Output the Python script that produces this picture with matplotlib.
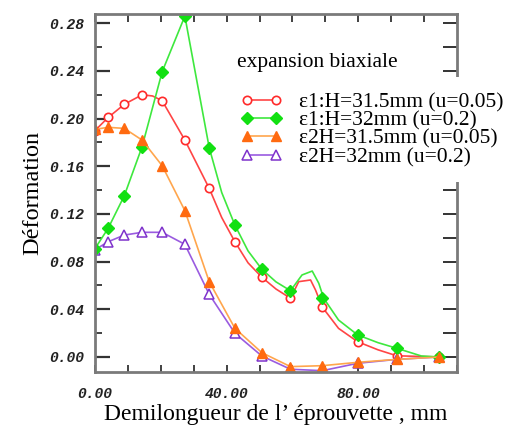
import numpy as np
import matplotlib
matplotlib.use("Agg")
import matplotlib.pyplot as plt
from matplotlib.ticker import MultipleLocator, FixedLocator
from matplotlib.lines import Line2D
from matplotlib.font_manager import FontProperties

# marker positions (mm) and values
x_nodes = [0, 4.0, 8.9, 14.3, 20.4, 27.3, 34.7, 42.5, 50.7, 59.4, 69.1, 79.8, 91.7, 104.5]
e1_315 = [0.190, 0.201, 0.212, 0.220, 0.215, 0.182, 0.1415, 0.0967, 0.0669, 0.0493, 0.0417, 0.0128, 0.001, 0.0]
e1_32 = [0.091, 0.108, 0.1353, 0.1764, 0.2393, 0.286, 0.1756, 0.1107, 0.0736, 0.0556, 0.0492, 0.0185, 0.0073, 0.0]
e2_315 = [0.191, 0.1927, 0.1918, 0.182, 0.1605, 0.1228, 0.0632, 0.0241, 0.0036, -0.0081, -0.0073, -0.0045, -0.002, 0.0]
e2_32 = [0.090, 0.0967, 0.1023, 0.1046, 0.1046, 0.0945, 0.0526, 0.0199, 0.0008, -0.0103, -0.0115, -0.0053, -0.002, 0.0]

# extra points on the curves between markers (bump near 65 mm, tail)
red_line_x = [0, 4.0, 8.9, 14.3, 17.5, 20.4, 27.3, 34.7, 38.5, 42.5, 46.5, 50.7, 55, 59.4, 61.9, 65.5, 67.0, 69.1, 74, 79.8, 86, 91.7, 104.5]
red_line_y = [0.190, 0.201, 0.212, 0.220, 0.219, 0.215, 0.182, 0.1415, 0.117, 0.0967, 0.079, 0.0669, 0.057, 0.0493, 0.0632, 0.0646, 0.0562, 0.0417, 0.024, 0.0128, 0.006, 0.001, 0.0]
green_line_x = [0, 4.0, 8.9, 14.3, 20.4, 27.3, 34.7, 38.5, 42.5, 46.5, 50.7, 55, 59.4, 62.9, 66.0, 68.0, 69.5, 74, 79.8, 86, 91.7, 99.2, 104.5]
green_line_y = [0.091, 0.108, 0.1353, 0.1764, 0.2393, 0.286, 0.1756, 0.138, 0.1107, 0.089, 0.0736, 0.063, 0.0556, 0.0688, 0.0721, 0.0618, 0.0492, 0.031, 0.0185, 0.012, 0.0073, 0.0008, 0.0]

labels = ["ε1:H=31.5mm (u=0.05)", "ε1:H=32mm (u=0.2)",
          "ε2H=31.5mm (u=0.05)", "ε2H=32mm (u=0.2)"]

SERIF = "Liberation Serif"
AXC = "#7a7a7a"
TICKC = "#333333"
RED, GREEN, ORANGE, PURPLE = "#ff4545", "#3ee83e", "#ffa64d", "#9a5be0"

styles = [
    dict(color=RED, lw=1.2, marker="o", ms=6, mfc="white", mec="#ff2a2a", mew=1.2),
    dict(color=GREEN, lw=1.2, marker="D", ms=6.5, mfc="#12e012", mec="#12e012"),
    dict(color=ORANGE, lw=1.2, marker="^", ms=6.5, mfc="#ff6a10", mec="#ff6a10"),
    dict(color=PURPLE, lw=1.2, marker="^", ms=6.5, mfc="white", mec="#7f33cc", mew=1.1),
]


def marks(st):
    return {k: v for k, v in st.items() if k not in ("color", "lw")}


fig = plt.figure(figsize=(5.15, 4.33), dpi=100, facecolor="white")
ax = fig.add_axes([0.1845, 0.1409, 0.7029, 0.8268])

ax.plot(red_line_x, red_line_y, color=RED, lw=1.2)
ax.plot(x_nodes, e1_315, ls="none", **marks(styles[0]))
ax.plot(x_nodes, e2_32, color=PURPLE, lw=1.2)
ax.plot(x_nodes, e2_32, ls="none", **marks(styles[3]))
ax.plot(green_line_x, green_line_y, color=GREEN, lw=1.2)
ax.plot(x_nodes, e1_32, ls="none", **marks(styles[1]))
ax.plot(x_nodes, e2_315, color=ORANGE, lw=1.2)
ax.plot(x_nodes, e2_315, ls="none", **marks(styles[2]))

ax.set_xlim(0, 110)
ax.set_ylim(-0.0126, 0.2878)

ax.xaxis.set_major_locator(FixedLocator([0, 40, 80]))
ax.xaxis.set_minor_locator(MultipleLocator(10))
ax.set_xticklabels(["0.00", "40.00", "80.00"])
yt = np.arange(0, 0.29, 0.04)
ax.set_yticks(yt)
ax.set_yticklabels([f"{v:.2f}" for v in yt])
ax.yaxis.set_minor_locator(MultipleLocator(0.02))

tick_fp = FontProperties(family="Liberation Mono", weight="bold", style="italic", size=10.5)
for lab in ax.get_xticklabels() + ax.get_yticklabels():
    lab.set_fontproperties(tick_fp)
    lab.set_color("#222222")

ax.tick_params(axis="y", which="major", direction="in", length=11, width=1.6, color=TICKC, pad=8)
ax.tick_params(axis="y", which="minor", direction="in", length=5, width=1.3, color=TICKC)
ax.tick_params(axis="x", which="both", direction="in", length=5, width=1.3, color=TICKC, pad=11)

for s in ax.spines.values():
    s.set_color(AXC)
    s.set_linewidth(2)

# top and right ticks
top = ax.secondary_xaxis("top")
top.xaxis.set_major_locator(MultipleLocator(10))
top.tick_params(direction="in", length=6, width=1.3, color=TICKC, labeltop=False)
top.spines["top"].set_visible(False)
right = ax.secondary_yaxis("right")
right.yaxis.set_major_locator(MultipleLocator(0.02))
right.tick_params(direction="in", length=10, width=1.4, color=TICKC, labelright=False)
right.spines["right"].set_visible(False)

ax.set_xlabel("Demilongueur de l\u2019 éprouvette , mm", family=SERIF, fontsize=17, labelpad=2)
ax.set_ylabel("Déformation", family=SERIF, fontsize=17.5, labelpad=4)

fig.text(237 / 515, 1 - 63 / 433, "expansion biaxiale", family=SERIF, fontsize=15.5,
         va="center", ha="left")

handles = [Line2D([], [], **st) for st in styles]
leg = fig.legend(handles, labels, loc="upper left", numpoints=2,
                 bbox_to_anchor=(225 / 515, 1 - 77 / 433),
                 prop=dict(family=SERIF, size=15.5), frameon=True, facecolor="white",
                 edgecolor="none", framealpha=1, fancybox=False, borderpad=0.7,
                 handlelength=1.95, handletextpad=0.8, labelspacing=-0.08,
                 borderaxespad=0)
leg.set_zorder(10)

fig.savefig("out.png", dpi=100, facecolor="white")
